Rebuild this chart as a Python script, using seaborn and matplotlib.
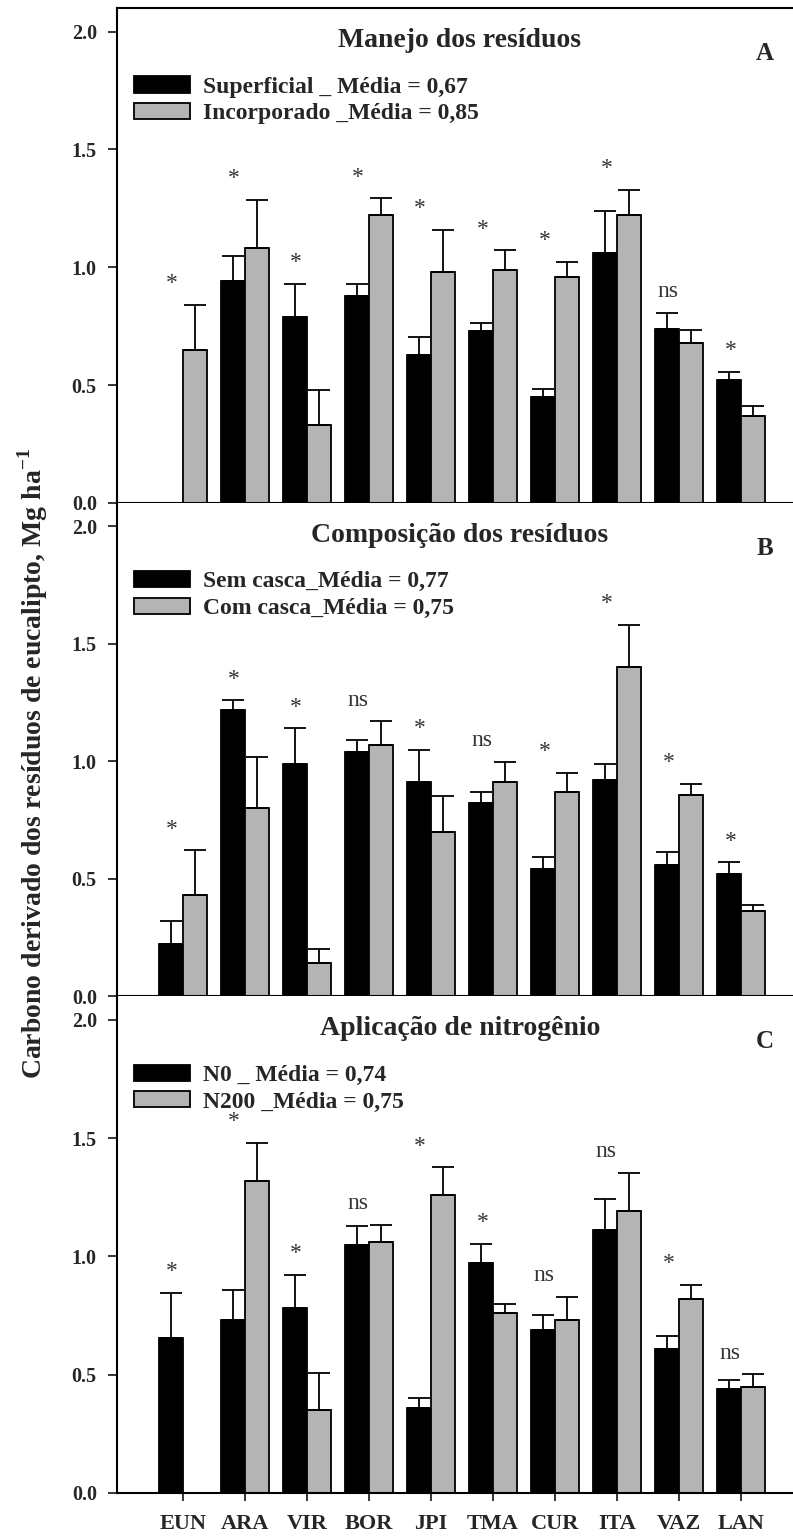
import numpy as np
import pandas as pd
import matplotlib
matplotlib.use("Agg")
import matplotlib.pyplot as plt
import seaborn as sns

sites = ["EUN", "ARA", "VIR", "BOR", "JPI", "TMA", "CUR", "ITA", "VAZ", "LAN"]

# A - manejo dos residuos
a_title = "Manejo dos resíduos"
a_names = ["Superficial _ Média = 0,67", "Incorporado _Média = 0,85"]
a_mean1 = [np.nan, 0.94, 0.79, 0.88, 0.63, 0.73, 0.45, 1.06, 0.74, 0.52]
a_err1 = [np.nan, 0.11, 0.14, 0.05, 0.075, 0.035, 0.033, 0.18, 0.068, 0.035]
a_mean2 = [0.65, 1.08, 0.33, 1.22, 0.98, 0.99, 0.96, 1.22, 0.68, 0.37]
a_err2 = [0.19, 0.205, 0.15, 0.072, 0.18, 0.082, 0.064, 0.108, 0.054, 0.043]
a_sig = ["*", "*", "*", "*", "*", "*", "*", "*", "ns", "*"]

# B - composicao dos residuos
b_title = "Composição dos resíduos"
b_names = ["Sem casca_Média = 0,77", "Com casca_Média = 0,75"]
b_mean1 = [0.22, 1.22, 0.99, 1.04, 0.91, 0.82, 0.54, 0.92, 0.56, 0.52]
b_err1 = [0.10, 0.04, 0.15, 0.049, 0.14, 0.049, 0.053, 0.07, 0.054, 0.049]
b_mean2 = [0.43, 0.80, 0.14, 1.07, 0.70, 0.91, 0.87, 1.40, 0.855, 0.36]
b_err2 = [0.19, 0.22, 0.061, 0.10, 0.15, 0.088, 0.082, 0.18, 0.05, 0.026]
b_sig = ["*", "*", "*", "ns", "*", "ns", "*", "*", "*", "*"]

# C - aplicacao de nitrogenio
c_title = "Aplicação de nitrogênio"
c_names = ["N0 _ Média = 0,74", "N200 _Média = 0,75"]
c_mean1 = [0.655, 0.73, 0.78, 1.05, 0.36, 0.97, 0.69, 1.11, 0.61, 0.44]
c_err1 = [0.19, 0.127, 0.142, 0.078, 0.04, 0.084, 0.064, 0.133, 0.053, 0.037]
c_mean2 = [np.nan, 1.32, 0.35, 1.06, 1.26, 0.76, 0.73, 1.19, 0.82, 0.45]
c_err2 = [np.nan, 0.158, 0.156, 0.072, 0.116, 0.039, 0.10, 0.161, 0.059, 0.051]
c_sig = ["*", "*", "*", "ns", "*", "*", "ns", "ns", "*", "ns"]

sns.set_theme(style="ticks")
plt.rcParams["font.family"] = ["Liberation Serif", "DejaVu Serif"]
plt.rcParams["mathtext.fontset"] = "custom"
plt.rcParams["mathtext.bf"] = "Liberation Serif:bold"
plt.rcParams["mathtext.rm"] = "Liberation Serif"

W, H = 793, 1537
fig = plt.figure(figsize=(W / 100, H / 100), dpi=100)
left, right = 117, 793
rows = [(8, 503), (503, 996), (996, 1493)]


def panel(ax, title, letter, names, m1, e1, m2, e2, sig, show_x):
    df = pd.DataFrame({
        "local": sites * 2,
        "trat": [names[0]] * len(sites) + [names[1]] * len(sites),
        "carbono": list(m1) + list(m2),
    })
    sns.barplot(data=df, x="local", y="carbono", hue="trat", order=sites,
                hue_order=names, palette=["black", "#b4b4b4"], edgecolor="black",
                linewidth=1.3, width=0.77, errorbar=None, saturation=1, ax=ax)

    # upper error bars only, on the bars seaborn drew (one container per hue)
    xs, ys, es = [], [], []
    for cont, errs in zip(ax.containers, [e1, e2]):
        for p in cont.patches:
            h = p.get_height()
            cx = p.get_x() + p.get_width() / 2
            e = errs[int(round(cx))]
            if np.isnan(h) or np.isnan(e):
                continue
            xs.append(cx)
            ys.append(h)
            es.append(e)
    ax.errorbar(xs, ys, yerr=[np.zeros(len(es)), es], fmt="none", ecolor="black",
                elinewidth=1.3, capsize=8, capthick=1.3, zorder=1)

    tops = np.nanmax(np.vstack([np.array(m1) + np.array(e1),
                                np.array(m2) + np.array(e2)]), axis=0)
    for i, s in enumerate(sig):
        ax.text(i - 0.17, tops[i] + 0.09, s, ha="center", va="center",
                fontsize=17, color="#333333")

    ax.set_xlim(-1.06, 9.84)
    ax.set_ylim(0, 2.1)
    ax.set_yticks([0, 0.5, 1.0, 1.5, 2.0])
    ax.set_yticklabels([f"{v:.1f}" for v in [0, 0.5, 1.0, 1.5, 2.0]],
                       fontsize=14.5, fontweight="bold")
    ax.tick_params(axis="y", direction="out", length=6.5, width=1.3, pad=8)
    if show_x:
        ax.tick_params(axis="x", direction="out", length=6, width=1.3, pad=9)
        for lab in ax.get_xticklabels():
            lab.set_fontsize(16)
            lab.set_fontweight("bold")
    else:
        ax.tick_params(axis="x", bottom=False, labelbottom=False)
    ax.set_xlabel("")
    ax.set_ylabel("")

    # x in axes fraction, y in data units
    ax.text(0.507, 1.935, title, transform=ax.get_yaxis_transform(),
            ha="center", va="baseline", fontsize=20, fontweight="bold")
    ax.text(0.958, 1.88, letter, transform=ax.get_yaxis_transform(),
            ha="center", va="baseline", fontsize=18, fontweight="bold")

    sns.move_legend(ax, "upper left", bbox_to_anchor=(0.025, 0.862), title=None,
                    frameon=False, borderpad=0, borderaxespad=0,
                    handlelength=2.37, handleheight=0.68, handletextpad=0.55,
                    labelspacing=0.22,
                    prop={"family": "Liberation Serif", "weight": "bold", "size": 17})

    for sp in ax.spines.values():
        sp.set_linewidth(1.5)
        sp.set_color("black")
    ax.spines["right"].set_visible(False)


data = [
    (a_title, "A", a_names, a_mean1, a_err1, a_mean2, a_err2, a_sig),
    (b_title, "B", b_names, b_mean1, b_err1, b_mean2, b_err2, b_sig),
    (c_title, "C", c_names, c_mean1, c_err1, c_mean2, c_err2, c_sig),
]
for n, ((top, bot), args) in enumerate(zip(rows, data)):
    ax = fig.add_axes([left / W, 1 - bot / H, (right - left) / W, (bot - top) / H])
    panel(ax, *args, show_x=(n == 2))
    if n > 0:
        ax.spines["top"].set_visible(False)

fig.text(0.041, 0.5036, r"Carbono derivado dos resíduos de eucalipto, Mg ha$^{\mathbf{-1}}$",
         rotation=90, ha="center", va="center", fontsize=20, fontweight="bold")

fig.savefig("out.png", dpi=100)
